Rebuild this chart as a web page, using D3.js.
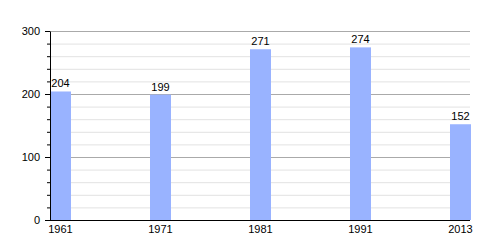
<!DOCTYPE html>
<html>
<head>
<meta charset="utf-8">
<script src="https://cdn.jsdelivr.net/npm/d3@7"></script>
<style>
  body { margin: 0; background: #fff; }
</style>
</head>
<body>
<div class="chart"></div>
<script>
// chart data
years = ["1961", "1971", "1981", "1991", "2013"];
values = [204, 199, 271, 274, 152];
yTicks = [0, 100, 200, 300];

width = 500;
height = 250;
margin = ({top: 31, right: 30, bottom: 30, left: 50});
barwidth = 21;

svg = d3.select('.chart').append('svg')
    .attr("width", width)
    .attr("height", height)
    .style("font", "11px 'Liberation Sans', Arial, sans-serif");

scaleY = d3.scaleLinear()
    .domain([0, 300])
    .range([220, margin.top]);

scaleX = d3.scaleBand()
    .domain(years)
    .range([margin.left, margin.left + 100 * years.length]);

gridRight = 470;

// minor grid
svg.append("g")
    .selectAll("line")
    .data(d3.range(0, 301, 20).filter(v => v % 100 != 0))
    .join("line")
    .attr("x1", margin.left).attr("x2", gridRight)
    .attr("y1", d => scaleY(d) + 0.5).attr("y2", d => scaleY(d) + 0.5)
    .attr("stroke", "#e2e2e2");

// major grid
svg.append("g")
    .selectAll("line")
    .data(yTicks.filter(v => v > 0))
    .join("line")
    .attr("x1", margin.left).attr("x2", gridRight)
    .attr("y1", d => scaleY(d) + 0.5).attr("y2", d => scaleY(d) + 0.5)
    .attr("stroke", "#aaaaaa");

// x axis line
svg.append("line")
    .attr("x1", margin.left).attr("x2", gridRight)
    .attr("y1", scaleY(0) + 0.5).attr("y2", scaleY(0) + 0.5)
    .attr("stroke", "#000");

// bars
svg.append("g")
    .selectAll("rect")
    .data(values)
    .join("rect")
    .attr("fill", "#99b3ff")
    .attr("x", (d, i) => scaleX(years[i]))
    .attr("y", d => scaleY(d))
    .attr("width", barwidth)
    .attr("height", d => scaleY(0) - scaleY(d));

// value labels
svg.append("g")
    .selectAll("text")
    .data(values)
    .join("text")
    .attr("x", (d, i) => scaleX(years[i]) + barwidth / 2)
    .attr("y", d => scaleY(d) - 4)
    .attr("text-anchor", "middle")
    .attr("fill", "#000")
    .text(d => d);

// y axis with minor ticks
yMinor = g => g
    .attr("transform", `translate(${margin.left}, 0)`)
    .call(d3.axisLeft(scaleY).tickValues(d3.range(0, 301, 20)).tickSize(3).tickFormat("").tickSizeOuter(0))
    .call(g => g.select(".domain").remove());

yAxis = g => g
    .attr("transform", `translate(${margin.left}, 0)`)
    .call(d3.axisLeft(scaleY).tickValues(yTicks).tickSize(5).tickPadding(5).tickSizeOuter(0));

svg.append("g").call(yMinor);
svg.append("g").call(yAxis)
    .style("font", "11px 'Liberation Sans', Arial, sans-serif");

// x labels
svg.append("g")
    .selectAll("text")
    .data(years)
    .join("text")
    .attr("x", d => scaleX(d) + barwidth / 2)
    .attr("y", scaleY(0) + 13)
    .attr("text-anchor", "middle")
    .attr("fill", "#000")
    .text(d => d);
</script>
</body>
</html>
